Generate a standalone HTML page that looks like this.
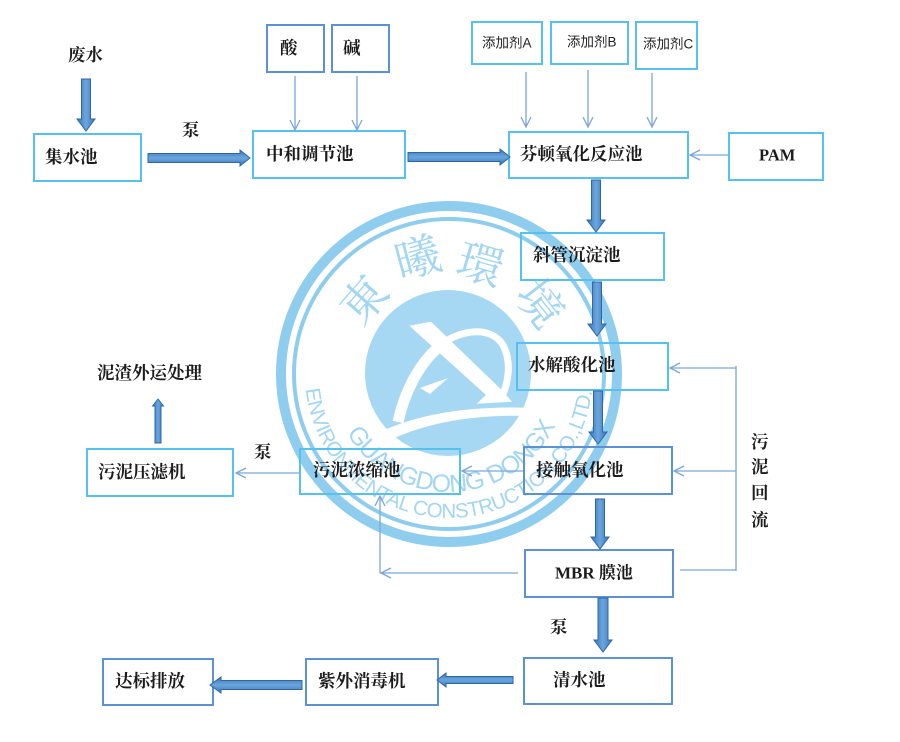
<!DOCTYPE html>
<html>
<head>
<meta charset="utf-8">
<style>
  html,body{margin:0;padding:0;background:#fff;}
  svg{display:block;}
  .t{font-family:"Liberation Serif","Noto Serif CJK SC",serif;font-weight:bold;font-size:17.5px;fill:#1c1c1c;dominant-baseline:central;}
  .s{font-family:"Liberation Sans","Noto Sans CJK SC",sans-serif;font-size:13.5px;fill:#222;dominant-baseline:central;}
  .bc{fill:none;stroke:#55c1ee;stroke-width:2;}
  .bb{fill:none;stroke:#5a92d4;stroke-width:2;}
  .ln{fill:none;stroke:#7ba6d9;stroke-width:1.3;}
  .ar{fill:url(#g);stroke:#2f66a8;stroke-width:1;}
  .arh{fill:url(#gh);stroke:#2f66a8;stroke-width:1;}
</style>
</head>
<body>
<svg width="900" height="742" viewBox="0 0 900 742" xmlns="http://www.w3.org/2000/svg">
  <defs>
    <linearGradient id="g" x1="0" y1="0" x2="1" y2="0">
      <stop offset="0" stop-color="#3c75b8"/>
      <stop offset="0.5" stop-color="#6aa6dd"/>
      <stop offset="1" stop-color="#3c75b8"/>
    </linearGradient>
    <linearGradient id="gh" x1="0" y1="0" x2="0" y2="1">
      <stop offset="0" stop-color="#3c75b8"/>
      <stop offset="0.5" stop-color="#6aa6dd"/>
      <stop offset="1" stop-color="#3c75b8"/>
    </linearGradient>
    <path id="arcIn" d="M 346.8 433 A 118 118 0 0 0 555 426"/>
    <path id="arcOut" d="M 305.8 389.1 A 144 144 0 0 0 592.2 389.1"/>
  </defs>

  <!-- Watermark -->
  <g>
    <circle cx="449" cy="374" r="168" fill="none" stroke="#8fcdef" stroke-width="10"/>
    <circle cx="449" cy="374" r="155" fill="none" stroke="#8fcdef" stroke-width="4"/>
    <circle cx="448" cy="373" r="83" fill="#a7d8f3"/>
    <!-- white logo shapes -->
    <path d="M 398 422 C 406 385, 425 355, 446 342" fill="none" stroke="#fff" stroke-width="11"/>
    <path d="M 440 345 C 460 330, 490 325, 503 345 C 512 362, 508 382, 503 394" fill="none" stroke="#fff" stroke-width="7"/>
    <polygon points="409.3,325.7 431,321.7 502.7,391 512,401.7 476.7,403.7 486,395" fill="#fff"/>
    <polygon points="420,388 448,378 430,394" fill="#fff"/>
    <path d="M 380 432 Q 440 404 534 408 L 532 416 Q 446 413 388 441 Z" fill="#fff"/>
    <!-- chinese characters -->
    <g font-family="'Noto Serif CJK SC','Noto Sans CJK SC',serif" font-size="46" fill="#a3d6f2" text-anchor="middle" dominant-baseline="central">
      <text transform="translate(362,298) rotate(-49)">東</text>
      <text transform="translate(417,255) rotate(-15)">曦</text>
      <text transform="translate(481,262) rotate(16)">環</text>
      <text transform="translate(542,302) rotate(52)">境</text>
    </g>
    <text font-family="'Liberation Sans',sans-serif" font-size="25" fill="#a3d6f2">
      <textPath href="#arcIn" textLength="262" lengthAdjust="spacing">GUANGDONG DONGXI</textPath>
    </text>
    <text font-family="'Liberation Sans',sans-serif" font-size="20.5" fill="#a3d6f2">
      <textPath href="#arcOut" textLength="420" lengthAdjust="spacing">ENVIRONMENTAL CONSTRUCTION CO.,LTD.</textPath>
    </text>
  </g>

  <!-- Boxes -->
  <rect class="bc" x="34" y="134" width="107" height="47"/>
  <rect class="bc" x="253" y="131" width="152" height="47"/>
  <rect class="bb" x="267" y="25" width="57" height="47"/>
  <rect class="bb" x="332" y="25" width="57" height="47"/>
  <rect class="bc" x="472" y="22" width="70" height="42"/>
  <rect class="bc" x="551" y="22" width="77" height="42"/>
  <rect class="bc" x="636" y="22" width="61" height="47"/>
  <rect class="bc" x="509" y="132" width="179" height="46"/>
  <rect class="bc" x="729" y="133" width="94" height="47"/>
  <rect class="bc" x="521" y="233" width="143" height="47"/>
  <rect class="bc" x="517" y="343" width="151" height="47"/>
  <rect class="bb" x="524" y="447" width="148" height="47"/>
  <rect class="bb" x="525" y="550" width="148" height="47"/>
  <rect class="bb" x="524" y="658" width="148" height="46"/>
  <rect class="bb" x="306" y="659" width="132" height="46"/>
  <rect class="bb" x="103" y="659" width="110" height="46"/>
  <rect class="bc" x="87" y="449" width="146" height="47"/>
  <rect class="bc" x="300" y="449" width="160" height="45"/>

  <!-- Thin connectors -->
  <g class="ln">
    <line x1="295" y1="76" x2="295" y2="130"/><polyline points="290,120 295,130 300,120"/>
    <line x1="357" y1="76" x2="357" y2="130"/><polyline points="352,120 357,130 362,120"/>
    <line x1="526" y1="72" x2="526" y2="127"/><polyline points="521,117 526,127 531,117"/>
    <line x1="588" y1="70" x2="588" y2="127"/><polyline points="583,117 588,127 593,117"/>
    <line x1="652" y1="73" x2="652" y2="127"/><polyline points="647,117 652,127 657,117"/>
    <line x1="728" y1="155" x2="690" y2="155"/><polyline points="700,150 690,155 700,160"/>
    <!-- sludge return -->
    <line x1="736" y1="366" x2="736" y2="571"/>
    <line x1="736" y1="368" x2="670" y2="368"/><polyline points="680,363 670,368 680,373"/>
    <line x1="736" y1="471" x2="674" y2="471"/><polyline points="684,466 674,471 684,476"/>
    <line x1="680" y1="570" x2="736" y2="570"/>
    <!-- to thickener -->
    <line x1="523" y1="471" x2="462" y2="471"/><polyline points="472,466 462,471 472,476"/>
    <line x1="299" y1="473" x2="236" y2="473"/><polyline points="246,468 236,473 246,478"/>
    <line x1="518" y1="573" x2="380" y2="573"/><polyline points="391,568 381,573 391,578"/>
    <line x1="380" y1="573" x2="380" y2="496"/><polyline points="375,506 380,496 385,506"/>
  </g>

  <!-- Thick arrows -->
  <polygon class="ar" points="81.5,79 90.5,79 90.5,119 95,119 86,131 77,119 81.5,119"/>
  <polygon class="ar" points="591.5,180 600.5,180 600.5,220 605,220 596,232 587,220 591.5,220"/>
  <polygon class="ar" points="592.5,282 601.5,282 601.5,324 606,324 597,336 588,324 592.5,324"/>
  <polygon class="ar" points="593.5,391 602.5,391 602.5,432 607,432 598,444 589,432 593.5,432"/>
  <polygon class="ar" points="595.5,499 604.5,499 604.5,537 609,537 600,549 591,537 595.5,537"/>
  <polygon class="ar" points="598,598 608,598 608,640 612,640 603,652 594,640 598,640"/>
  <polygon class="ar" points="155,443 161,443 161,406 163.5,406 158,399 152.5,406 155,406"/>
  <polygon class="arh" points="148,153.5 240,153.5 240,150 250,158 240,166 240,162.5 148,162.5"/>
  <polygon class="arh" points="408,152.5 500,152.5 500,149 510,157 500,165 500,161.5 408,161.5"/>
  <polygon class="arh" points="513,676.5 446,676.5 446,673 437,680 446,687 446,683.5 513,683.5"/>
  <polygon class="arh" points="302,680.5 221,680.5 221,677 210,685 221,693 221,689.5 302,689.5"/>

  <!-- Labels -->
  <text class="t" x="68" y="55">废水</text>
  <text class="t" x="182" y="130">泵</text>
  <text class="t" x="45" y="157">集水池</text>
  <text class="t" x="266" y="154">中和调节池</text>
  <text class="t" x="280" y="48">酸</text>
  <text class="t" x="343" y="48">碱</text>
  <text class="s" x="482" y="43">添加剂A</text>
  <text class="s" x="567" y="42">添加剂B</text>
  <text class="s" x="643" y="44">添加剂C</text>
  <text class="t" x="520" y="154">芬顿氧化反应池</text>
  <text class="t" x="759" y="155" style="font-size:16.5px">PAM</text>
  <text class="t" x="533" y="255">斜管沉淀池</text>
  <text class="t" x="528" y="365">水解酸化池</text>
  <text class="t" x="536" y="470">接触氧化池</text>
  <text class="t" x="555" y="573" style="font-size:17px">MBR 膜池</text>
  <text class="t" x="751" y="442">污</text>
  <text class="t" x="751" y="467">泥</text>
  <text class="t" x="751" y="493">回</text>
  <text class="t" x="751" y="520">流</text>
  <text class="t" x="97" y="373">泥渣外运处理</text>
  <text class="t" x="98" y="472">污泥压滤机</text>
  <text class="t" x="254" y="452">泵</text>
  <text class="t" x="313" y="470">污泥浓缩池</text>
  <text class="t" x="550" y="627">泵</text>
  <text class="t" x="553" y="680">清水池</text>
  <text class="t" x="318" y="681">紫外消毒机</text>
  <text class="t" x="115" y="681">达标排放</text>
</svg>
</body>
</html>
